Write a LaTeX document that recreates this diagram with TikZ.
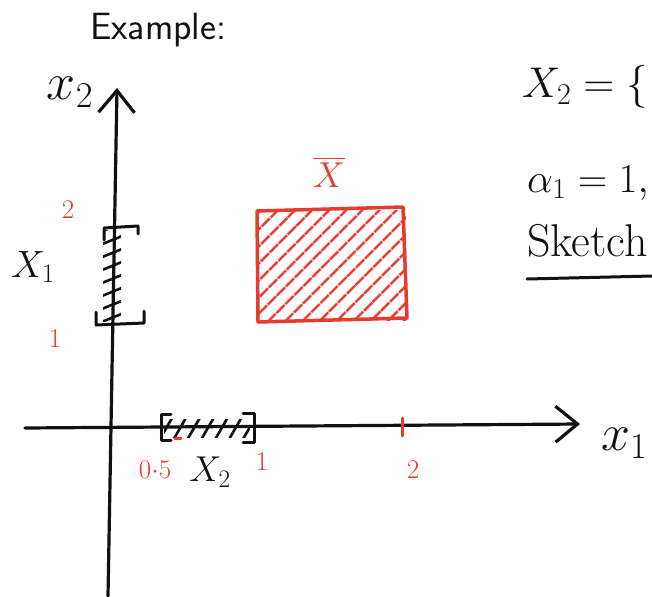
\RequirePackage{fix-cm}
\documentclass[tikz,border=0pt]{standalone}
\usepackage{amsmath,amssymb}
\usetikzlibrary{arrows.meta,patterns.meta}
\definecolor{ink}{HTML}{111111}
\definecolor{pen}{HTML}{E63B2E}

\begin{document}
\begin{tikzpicture}[x=1pt,y=-1pt,line cap=round,line join=round,
 axis/.style={draw=ink,line width=3.2pt,-{Straight Barb[length=22pt,width=36pt,line width=3.2pt]}},
 lbl/.style={text=ink,inner sep=0pt},
 num/.style={text=pen,inner sep=0pt,font=\fontsize{27}{30}\selectfont},
 brk/.style={draw=ink,line width=3pt},
 hatch/.style={pattern={Lines[angle=#1,distance=12pt,line width=2.6pt]},pattern color=ink}]
\clip (0,0) rectangle (652,596);
\fill[white] (0,0) rectangle (652,596);
% heading and notes on the right
\node[lbl,anchor=base west,font=\sffamily\fontsize{38}{44}\selectfont] (title) at (90,40) {Example:};
\node[lbl,anchor=base west,font=\fontsize{43}{50}\selectfont] (settwo) at (522,98) {$X_2=\{$};
\node[lbl,anchor=base west,font=\fontsize{41}{48}\selectfont] (alpha) at (527,192) {$\alpha_1=1,$};
\node[lbl,anchor=base west,font=\fontsize{46}{52}\selectfont] (sketch) at (527,256) {Sketch};
\draw[brk] (527,279) -- (652,276);
% axes
\coordinate (ybot) at (108,596); \coordinate (ytop) at (117,88);
\coordinate (xleft) at (25,428); \coordinate (xright) at (580,424);
\draw[axis] (ybot) -- (ytop);
\draw[axis] (xleft) -- (xright);
\node[lbl,font=\fontsize{52}{58}\selectfont] (xtwo) at (70,92) {$x_2$};
\node[lbl,anchor=west,font=\fontsize{52}{58}\selectfont] (xone) at (601,443) {$x_1$};
% interval X1 on the x2 axis
\fill[hatch=22] (103,230) rectangle (121,321);
\draw[brk] (96,312) -- (96,325) -- (144,323) -- (144,311);
\draw[brk] (104,240) -- (104,228) -- (138,226) -- (138,234);
\node[lbl,font=\fontsize{38}{44}\selectfont] (setX1) at (33,267) {$X_1$};
% interval X2 on the x1 axis
\fill[hatch=60] (164,419) rectangle (250,437);
\draw[brk] (171,414) -- (161,414) -- (161,440) -- (171,440);
\draw[brk] (243,413) -- (254,413) -- (254,442) -- (243,442);
\node[lbl,font=\fontsize{36}{42}\selectfont] (setX2) at (210,472) {$X_2$};
% values in red
\node[num] (twoup) at (68,210) {2};
\node[num] (oneup) at (55,339) {1};
\node[num] (half) at (155,470) {$0{\cdot}5$};
\node[num] (oneright) at (262,462) {1};
\node[num] (tworight) at (413,470) {2};
\draw[pen,line width=3pt] (402,418) -- (402,436);
\draw[pen,line width=3pt] (175,438) -- (181,438);
% the product set
\fill[pattern={Lines[angle=45,distance=13pt,line width=3pt]},pattern color=pen] (257,210) rectangle (406,320);
\draw[pen,line width=3.5pt] (257,211) -- (403,207) -- (407,318) -- (258,322) -- cycle;
\node[text=pen,inner sep=0pt,font=\fontsize{36}{42}\selectfont] (Xbar) at (329,172) {$\overline{X}$};
\end{tikzpicture}
\end{document}
